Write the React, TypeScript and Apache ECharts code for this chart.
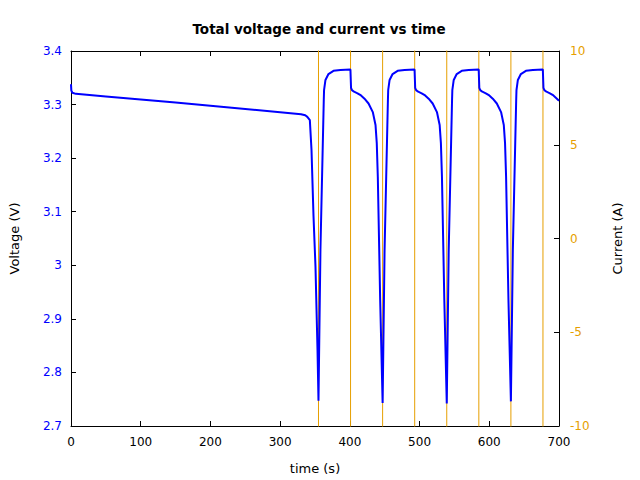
import React, { useEffect, useRef } from "react";
import * as echarts from "echarts";

// Voltage trace, time (s)
const voltageTime: number[] = [
  0, 0.5, 2, 7, 50, 100, 150, 200, 250, 300, 330, 336, 339, 342.6, 345, 347.8, 350.7, 353.6, 355,
  357.8, 362.6, 363, 365, 369.3, 376.5, 386.5, 400.8,
  401.7, 403, 406, 411, 416, 421, 426.8, 432.9, 436.8, 438.6, 440.1, 443.5, 447,
  449.8, 454.6, 455, 457, 461.3, 468.5, 478.5, 492.8,
  493.7, 495, 498, 503, 508, 513, 518.8, 524.9, 528.8, 530.6, 532.1, 535.5, 539,
  541.8, 546.6, 547, 549, 553.3, 560.5, 570.5, 584.8,
  585.7, 587, 590, 595, 600, 605, 610.8, 616.9, 620.8, 622.6, 624.1, 627.5, 631,
  633.8, 638.6, 639, 641, 645.3, 652.5, 662.5, 676.8,
  677.7, 679, 682, 687, 692, 697, 700,
];
// Voltage values (V)
const voltageV: number[] = [
  3.338, 3.326, 3.322, 3.32, 3.3152, 3.3095, 3.3037, 3.2978, 3.2918, 3.2858, 3.282, 3.28, 3.277, 3.271, 3.215, 3.094, 2.997, 2.842, 2.747,
  3.029, 3.309, 3.327, 3.346, 3.357, 3.363, 3.3645, 3.3655,
  3.331, 3.327, 3.324, 3.321, 3.317, 3.311, 3.302, 3.286, 3.262, 3.228, 3.165, 2.935, 2.743,
  3.029, 3.309, 3.327, 3.346, 3.357, 3.363, 3.3645, 3.3655,
  3.331, 3.327, 3.324, 3.321, 3.317, 3.311, 3.302, 3.286, 3.262, 3.228, 3.165, 2.935, 2.742,
  3.029, 3.309, 3.327, 3.346, 3.357, 3.363, 3.3645, 3.3655,
  3.331, 3.327, 3.324, 3.321, 3.317, 3.311, 3.302, 3.286, 3.262, 3.228, 3.165, 2.935, 2.746,
  3.029, 3.309, 3.327, 3.346, 3.357, 3.363, 3.3645, 3.3655,
  3.331, 3.327, 3.324, 3.321, 3.317, 3.311, 3.307,
];

// Current trace (A): switches between values beyond the ±10 A axis range
const currentTime: number[] = [0, 355, 355, 401, 401, 447, 447, 493, 493, 539, 539, 585, 585, 631, 631, 677, 677, 700];
const currentA: number[] = [-30, -30, 30, 30, -30, -30, 30, 30, -30, -30, 30, 30, -30, -30, 30, 30, -30, -30];

const xTicks = { min: 0, max: 700, interval: 100 };
const voltageTicks = { min: 2.7, max: 3.4, interval: 0.1 };
const currentTicks = { min: -10, max: 10, interval: 5 };

const FONT = "DejaVu Sans";
const BLUE = "#0000ff";
const ORANGE = "#e69f00";

export default function App() {
  const ref = useRef<HTMLDivElement>(null);
  useEffect(() => {
    if (!ref.current) return;
    const chart = echarts.init(ref.current, undefined, { renderer: "svg" });
    const vData = voltageTime.map((t, i) => [t, voltageV[i]]);
    const cData = currentTime.map((t, i) => [t, currentA[i]]);
    const tickStyle = { show: true, inside: true, length: 5, lineStyle: { color: "#000", width: 1 } };
    const nameStyle = { fontFamily: FONT, fontSize: 13, color: "#000" };
    chart.setOption({
      animation: false,
      backgroundColor: "#fff",
      title: {
        text: "Total voltage and current vs time",
        left: 314,
        textAlign: "center",
        top: 17,
        textStyle: { fontFamily: FONT, fontSize: 13.5, fontWeight: "bold", color: "#000" },
      },
      grid: { left: 70, right: 81, top: 51, bottom: 54, containLabel: false },
      xAxis: [
        {
          type: "value",
          position: "bottom",
          ...xTicks,
          name: "time (s)",
          nameLocation: "middle",
          nameGap: 36,
          nameTextStyle: nameStyle,
          axisLine: { show: true, onZero: false, lineStyle: { color: "#000", width: 1 } },
          axisTick: tickStyle,
          axisLabel: { fontFamily: FONT, fontSize: 12, color: "#000", margin: 10 },
          splitLine: { show: false },
        },
        {
          type: "value",
          position: "top",
          ...xTicks,
          axisLine: { show: true, onZero: false, lineStyle: { color: "#000", width: 1 } },
          axisTick: tickStyle,
          axisLabel: { show: false },
          splitLine: { show: false },
        },
      ],
      yAxis: [
        {
          type: "value",
          position: "left",
          ...voltageTicks,
          name: "Voltage (V)",
          nameLocation: "middle",
          nameRotate: 90,
          nameGap: 50,
          nameTextStyle: nameStyle,
          axisLine: { show: true, onZero: false, lineStyle: { color: "#000", width: 1 } },
          axisTick: tickStyle,
          axisLabel: {
            fontFamily: FONT,
            fontSize: 12,
            color: BLUE,
            margin: 9,
            formatter: (v: number) => String(parseFloat(v.toFixed(2))),
          },
          splitLine: { show: false },
        },
        {
          type: "value",
          position: "right",
          ...currentTicks,
          name: "Current (A)",
          nameLocation: "middle",
          nameRotate: 90,
          nameGap: 52,
          nameTextStyle: nameStyle,
          axisLine: { show: true, onZero: false, lineStyle: { color: "#000", width: 1 } },
          axisTick: tickStyle,
          axisLabel: { fontFamily: FONT, fontSize: 12, color: ORANGE, margin: 11 },
          splitLine: { show: false },
        },
      ],
      series: [
        {
          type: "line",
          name: "Current",
          xAxisIndex: 0,
          yAxisIndex: 1,
          data: cData,
          showSymbol: false,
          clip: true,
          lineStyle: { color: ORANGE, width: 1 },
          z: 1,
        },
        {
          type: "line",
          name: "Voltage",
          xAxisIndex: 0,
          yAxisIndex: 0,
          data: vData,
          showSymbol: false,
          clip: true,
          smooth: false,
          lineStyle: { color: BLUE, width: 2 },
          z: 2,
        },
      ],
    });
    return () => chart.dispose();
  }, []);
  return <div ref={ref} style={{ width: 640, height: 480, position: "absolute", left: 0, top: 0 }} />;
}
